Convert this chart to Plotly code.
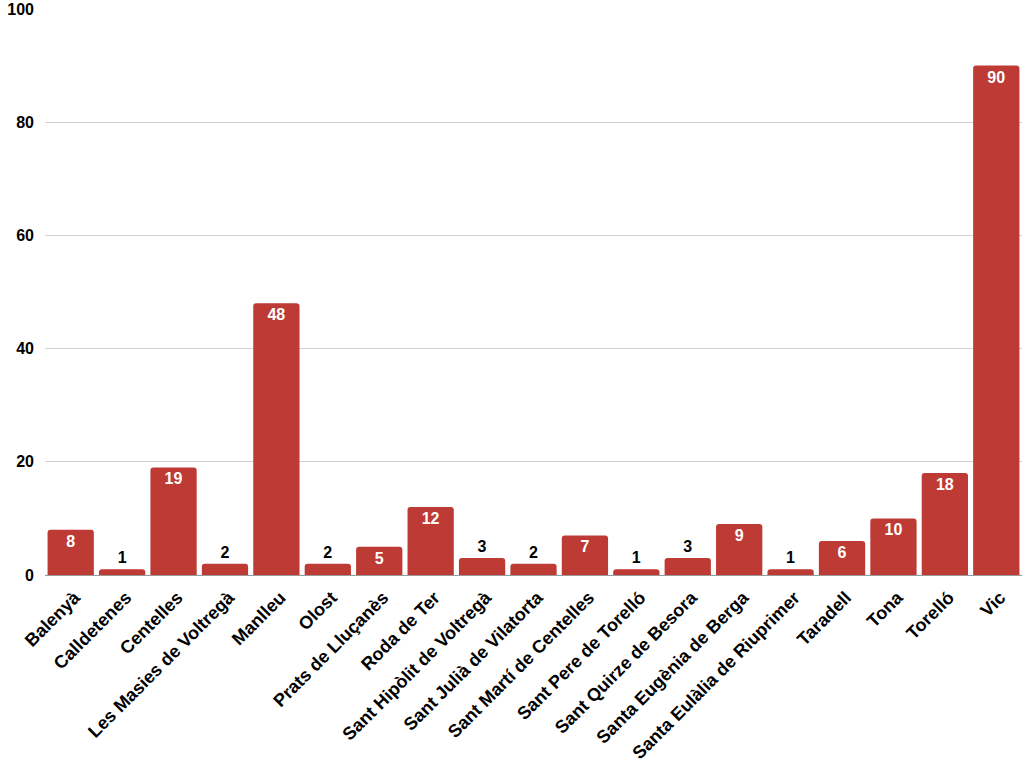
import plotly.graph_objects as go

categories = ["Balenyà", "Calldetenes", "Centelles", "Les Masies de Voltregà", "Manlleu",
              "Olost", "Prats de Lluçanès", "Roda de Ter", "Sant Hipòlit de Voltregà",
              "Sant Julià de Vilatorta", "Sant Martí de Centelles", "Sant Pere de Torelló",
              "Sant Quirze de Besora", "Santa Eugènia de Berga", "Santa Eulàlia de Riuprimer",
              "Taradell", "Tona", "Torelló", "Vic"]
values = [8, 1, 19, 2, 48, 2, 5, 12, 3, 2, 7, 1, 3, 9, 1, 6, 10, 18, 90]
y_ticks = [0, 20, 40, 60, 80, 100]

positions = ["inside" if v >= 5 else "outside" for v in values]
text_colors = ["white" if v >= 5 else "black" for v in values]

fig = go.Figure(go.Bar(
    x=categories, y=values,
    text=[str(v) for v in values],
    textposition=positions,
    insidetextanchor="end",
    textangle=0,
    textfont=dict(family="Liberation Sans, Arial", size=16, color=text_colors, weight="bold"),
    marker=dict(color="#BE3A34", cornerradius=3, line=dict(width=0)),
    cliponaxis=False,
))

fig.update_layout(
    width=1024, height=768,
    margin=dict(l=45, r=2, t=9, b=193),
    paper_bgcolor="white", plot_bgcolor="white",
    bargap=0.1,
    showlegend=False,
    font=dict(family="Liberation Sans, Arial", size=16, color="black", weight="bold"),
)
fig.update_xaxes(
    tickangle=-45, showgrid=False, showline=True, linecolor="#999999", linewidth=1,
    ticks="", tickfont=dict(size=18, weight="bold"), automargin=False,
    ticklabelstandoff=4, ticklabelshift=4,
)
fig.update_yaxes(
    range=[0, 100], tickvals=y_ticks, showgrid=True, gridcolor="#D0D0D0",
    zeroline=False, showline=False, ticks="", ticklabelstandoff=10,
    tickfont=dict(size=16, weight="bold"),
)

fig.write_html(
    "out.html",
    config={"displayModeBar": False},
    post_script="document.body.style.margin='0';document.body.style.overflow='hidden';",
)
